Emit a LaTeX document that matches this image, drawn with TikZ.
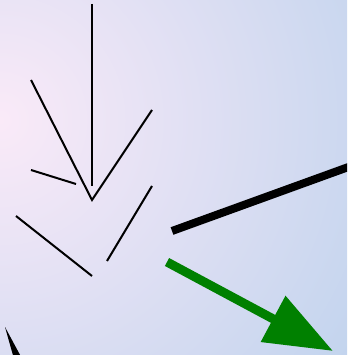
\documentclass[tikz,border=0pt]{standalone}
\usetikzlibrary{arrows.meta}
\definecolor{bgpink}{RGB}{250,234,248}
\definecolor{bgblue}{RGB}{184,208,236}
\definecolor{arrowgreen}{RGB}{0,128,0}

\begin{document}
\begin{tikzpicture}[x=1pt,y=-1pt,
    thinline/.style={line width=2pt,black},
    thickline/.style={line width=8pt,black}]
  \useasboundingbox (0,0) rectangle (347,355);
  \clip (0,0) rectangle (347,355);
  % background
  \shade[inner color=bgpink,outer color=bgblue] (0,120) circle [radius=500pt];
  % thin strokes
  \draw[thinline] (92,4) -- (92,186);
  \draw[thinline] (31,80) -- (92,200) -- (152,110);
  \draw[thinline] (31,170) -- (76,184);
  \draw[thinline] (16,216) -- (92,276);
  \draw[thinline] (152,186) -- (107,261);
  % thick bar and green arrow
  \draw[thickline] (172,231) -- (365,161);
  \draw[line width=9pt,arrowgreen,-{Triangle[length=68pt,width=50pt]}] (167,262) -- (333,351);
  % spike at the lower left
  \fill[black] (5,327) -- (26,366) -- (16,366) -- cycle;
\end{tikzpicture}
\end{document}
